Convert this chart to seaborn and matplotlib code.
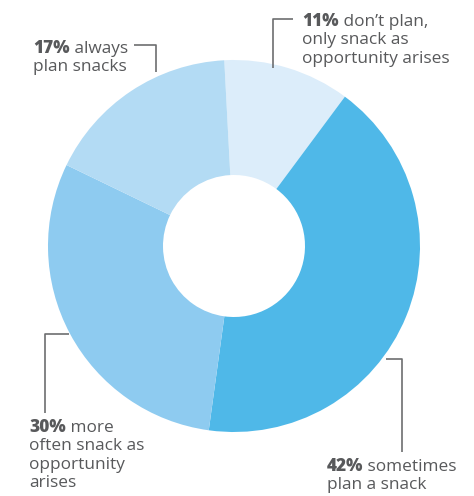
import matplotlib
matplotlib.use('Agg')
import matplotlib.pyplot as plt
import seaborn as sns

# slice data, clockwise from the top
shares = [11, 42, 30, 17]
pcts = ["11%", "42%", "30%", "17%"]
first_lines = [" don\u2019t plan,", " sometimes", " more", " always"]
more_lines = [["only snack as", "opportunity arises"],
              ["plan a snack"],
              ["often snack as", "opportunity", "arises"],
              ["plan snacks"]]
colors = ['#dcedfa', '#4fb8e8', '#8ecbf0', '#b3dbf4']

sns.set_theme(style='white')
plt.rcParams['font.family'] = ['Open Sans', 'DejaVu Sans']

W, H = 474, 496
fig = plt.figure(figsize=(W / 100, H / 100), dpi=100)
ax = fig.add_axes([0, 0, 1, 1])

# donut (pixel coordinates, y measured upward)
ax.pie(shares, colors=colors, startangle=93, counterclock=False,
       center=(234, H - 246), radius=186,
       wedgeprops=dict(width=115, linewidth=0))
ax.set_xlim(0, W)
ax.set_ylim(0, H)
ax.set_aspect('equal')
ax.axis('off')

txt = '#58595b'
line_col = '#6d6e70'

def py(y):
    return H - y

# leader lines (x list, y list in image pixels)
leaders = [
    ([293, 273, 273], [19, 19, 68]),
    ([386, 402, 402], [359, 359, 452]),
    ([69, 45, 45], [334, 334, 413]),
    ([134, 156, 156], [45, 45, 72]),
]
for xs, ys in leaders:
    ax.plot(xs, [py(v) for v in ys], color=line_col, lw=1.2, solid_capstyle='butt')

# label anchor: left x, first baseline, line step
anchors = [(302, 26, 18.5), (327, 471, 18), (29, 432, 18.3), (33, 53, 18)]
fs = 12.4
for i, (x, y0, step) in enumerate(anchors):
    t = ax.text(x, py(y0), pcts[i], fontsize=fs, fontweight='heavy',
                color=txt, va='baseline', ha='left')
    ax.annotate(first_lines[i], xy=(1, 0), xycoords=t, fontsize=fs,
                fontweight='medium', color=txt, va='bottom', ha='left')
    for k, s in enumerate(more_lines[i]):
        ax.text(x, py(y0 + step * (k + 1)), s, fontsize=fs, fontweight='medium',
                color=txt, va='baseline', ha='left')

plt.savefig('out.png', dpi=100)
